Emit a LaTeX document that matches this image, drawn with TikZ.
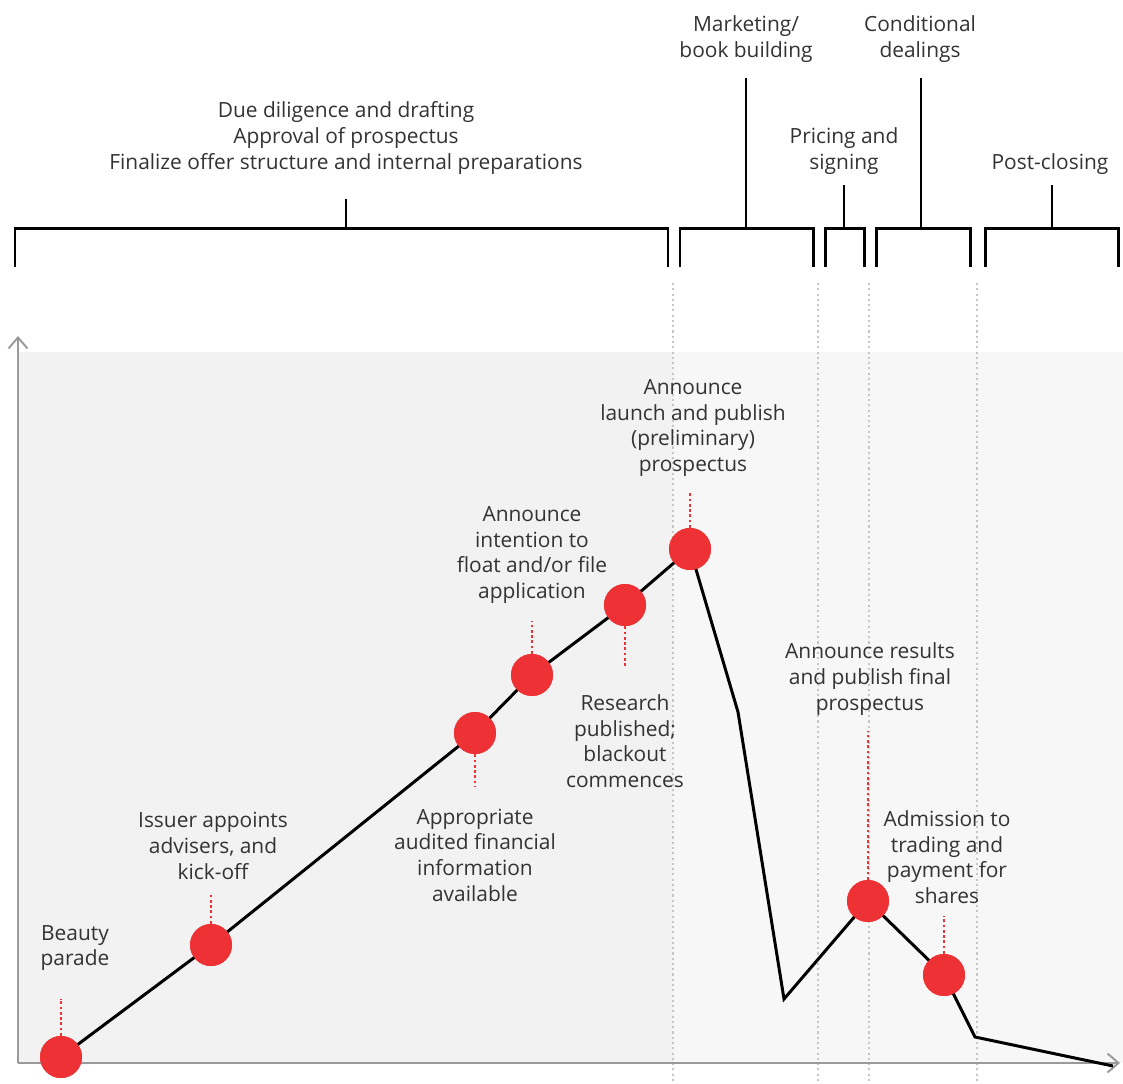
\documentclass[tikz,border=0pt]{standalone}
\usepackage{fontspec}
\setmainfont{Open Sans}
\usetikzlibrary{arrows.meta}
\definecolor{ipored}{HTML}{EE3135}
\definecolor{axisgray}{HTML}{9A9A9A}
\definecolor{textgray}{HTML}{333333}
\tikzset{
	phase/.style={line width=1.7pt,black},
	stem/.style={line width=1.3pt,black},
	milestone/.style={circle,fill=ipored,minimum size=0.84cm,inner sep=0pt},
	marker/.style={ipored,line width=1.6pt,dash pattern=on 1.5pt off 1.5pt},
	divider/.style={gray!45,line width=1.2pt,dash pattern=on 1.2pt off 1.8pt},
	lbl/.style={align=center,text=textgray,font=\fontsize{11.9}{14.6}\selectfont,inner sep=0pt,yshift=-0.06cm},
}
\begin{document}
\begin{tikzpicture}[x=0.02cm,y=-0.02cm]
	\useasboundingbox (0,0) rectangle (1123,1083);
	% shaded area
	\fill[black!5] (18,352) rectangle (673,1063);
	\fill[black!3] (673,352) rectangle (1123,1063);

	% phase brackets
	\draw[phase] (15,267) |- (668,228) -- ++(0,39);
	\draw[stem] (346,228) -- ++(0,-29) coordinate (s1);
	\draw[phase] (680,267) |- (813,228) -- ++(0,39);
	\draw[stem] (746,228) -- ++(0,-150) coordinate (s2);
	\draw[phase] (825,267) |- (864,228) -- ++(0,39);
	\draw[stem] (844,228) -- ++(0,-43) coordinate (s3);
	\draw[phase] (876,267) |- (970,228) -- ++(0,39);
	\draw[stem] (921,228) -- ++(0,-150) coordinate (s4);
	\draw[phase] (985,267) |- (1118,228) -- ++(0,39);
	\draw[stem] (1052,228) -- ++(0,-43) coordinate (s5);

	\node[lbl] (p1) at (346,135) {Due diligence and drafting\\Approval of prospectus\\Finalize offer structure and internal preparations};
	\node[lbl] (p2) at (746,36) {Marketing/\\book building};
	\node[lbl] (p3) at (844,148) {Pricing and\\signing};
	\node[lbl] (p4) at (920,36) {Conditional\\dealings};
	\node[lbl] (p5) at (1050,161) {Post-closing};

	% phase dividers
	\foreach \x in {673,818,869,977}
		\draw[divider] (\x,283) -- (\x,1083);

	% axes
	\coordinate (o) at (18,1063);
	\draw[axisgray,line width=1.1pt,-{Straight Barb[length=0.22cm,width=0.38cm]}] (o) -- (18,336);
	\draw[axisgray,line width=1.1pt,-{Straight Barb[length=0.22cm,width=0.38cm]}] (o) -- (1120,1063);

	% timeline
	\coordinate (t1) at (738,712);
	\coordinate (t2) at (784,999);
	\coordinate (t3) at (975,1037);
	\coordinate (t4) at (1113,1066);
	\node[milestone] (m1) at (61,1057) {};
	\node[milestone] (m2) at (211,945) {};
	\node[milestone] (m3) at (475,733) {};
	\node[milestone] (m4) at (532,675) {};
	\node[milestone] (m5) at (625,605) {};
	\node[milestone] (m6) at (690,549) {};
	\node[milestone] (m7) at (868,901) {};
	\node[milestone] (m8) at (944,975) {};
	\draw[line width=1.7pt,line join=miter] (m1.center) -- (m2.center) -- (m3.center) -- (m4.center) -- (m5.center) -- (m6.center)
		-- (t1) -- (t2) -- (m7.center) -- (m8.center) -- (t3) -- (t4);
	\foreach \m in {m1,m2,m3,m4,m5,m6,m7,m8}
		\node[milestone] at (\m) {};

	% markers
	\draw[marker] (m1.north) -- ++(0,-37) coordinate (c1);
	\draw[marker] (m2.north) -- ++(0,-29) coordinate (c2);
	\draw[marker] (m3.south) -- ++(0,33) coordinate (c3);
	\draw[marker] (m4.north) -- ++(0,-33) coordinate (c4);
	\draw[marker] (m5.south) -- ++(0,42) coordinate (c5);
	\draw[marker] (m6.north) -- ++(0,-36) coordinate (c6);
	\draw[marker] (m7.north) -- ++(0,-149) coordinate (c7);
	\draw[marker] (m8.north) -- ++(0,-38) coordinate (c8);

	\node[lbl] (l1) at (75,945) {Beauty\\parade};
	\node[lbl] (l2) at (213,843) {Issuer appoints\\advisers, and\\kick-off};
	\node[lbl] (l3) at (475,852) {Appropriate\\audited financial\\information\\available};
	\node[lbl] (l4) at (532,552) {Announce\\intention to\\float and/or file\\application};
	\node[lbl] (l5) at (625,738) {Research\\published;\\blackout\\commences};
	\node[lbl] (l6) at (693,425) {Announce\\launch and publish\\(preliminary)\\prospectus};
	\node[lbl] (l7) at (870,676) {Announce results\\and publish final\\prospectus};
	\node[lbl] (l8) at (947,854) {Admission to\\trading and\\payment for\\shares};
\end{tikzpicture}
\end{document}
